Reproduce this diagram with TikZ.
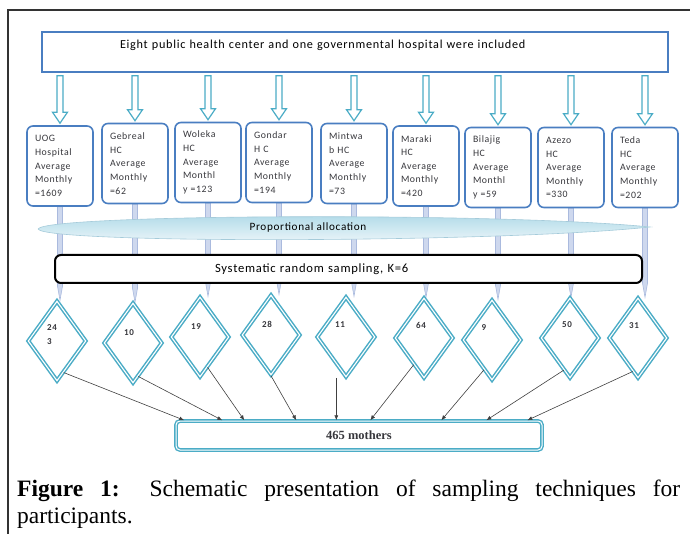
\documentclass[tikz,border=0pt]{standalone}
\usepackage{fontspec}
\setmainfont{Liberation Serif}
\newfontfamily\boxfont[LetterSpace=6]{Carlito}
\usetikzlibrary{shapes.geometric,arrows.meta,calc,backgrounds}

\definecolor{boxblue}{RGB}{74,126,193}
\definecolor{arrteal}{RGB}{75,172,198}
\definecolor{pipelav}{RGB}{206,216,238}
\definecolor{pipeedge}{RGB}{170,186,222}
\definecolor{lensblue}{RGB}{172,216,231}
\definecolor{lensedge}{RGB}{165,203,218}
\definecolor{txtgrey}{RGB}{55,55,60}

\tikzset{
  topbox/.style={draw=boxblue, line width=1.5pt, minimum width=626pt, minimum height=40pt,
    text width=470pt, align=left, inner sep=0pt, text height=8pt, text depth=15pt,
    font=\boxfont\fontsize{12.2}{14}\selectfont},
  centre/.style={draw=boxblue, line width=1.6pt, rounded corners=6pt, fill=white,
    minimum width=66pt, minimum height=80pt, text width=50pt, inner sep=0pt, align=left,
    text=txtgrey, font=\boxfont\fontsize{9.8}{13.6}\selectfont},
  hollowarr/.style={draw=arrteal, line width=1.2pt, fill=white,
    to path={let \p1=(\tikztostart), \p2=(\tikztotarget) in
      (\x1-3pt,\y1-3pt) -- (\x1-3pt,\y2+13pt) -- (\x1-7.5pt,\y2+13pt) -- (\x1,\y2+2pt)
      -- (\x1+7.5pt,\y2+13pt) -- (\x1+3pt,\y2+13pt) -- (\x1+3pt,\y1-3pt) -- cycle}},
  pipe/.style={draw=pipeedge, line width=0.6pt, fill=pipelav,
    to path={let \p1=(\tikztostart), \p2=(\tikztotarget) in
      (\x1-2.5pt,\y1) -- (\x1-2.5pt,\y2+14pt) -- (\x1,\y2) -- (\x1+2.5pt,\y2+14pt)
      -- (\x1+2.5pt,\y1) -- cycle}},
  diam/.style={diamond, draw=arrteal, line width=1.5pt, double=white, double distance=1.1pt,
    minimum width=58pt, minimum height=80pt, inner sep=0pt},
  dlab/.style={font=\boxfont\bfseries\fontsize{9}{14}\selectfont, text=txtgrey,
    inner sep=0pt, xshift=-4pt, yshift=12pt},
  lens/.style={draw=lensedge, line width=0.6pt, top color=lensblue, bottom color=white!80!lensblue},
  sysbox/.style={draw=black, line width=2pt, rounded corners=6pt, fill=white,
    minimum width=587pt, minimum height=28pt, text width=267pt, align=left, inner sep=0pt,
    font=\boxfont\fontsize{12.6}{14}\selectfont},
  mbox/.style={draw=arrteal, line width=1.4pt, double=white, double distance=1pt,
    rounded corners=4pt, fill=white, minimum width=366pt, minimum height=29pt,
    inner sep=0pt, text=txtgrey, font=\bfseries\fontsize{12.5}{14}\selectfont},
  toarr/.style={draw=black!75, line width=0.6pt, -{Latex[length=5pt,width=4pt]}},
  caption/.style={text width=663pt, align=justify, inner sep=0pt,
    font=\fontsize{23.5}{27}\selectfont}
}

\begin{document}
\begin{tikzpicture}[x=1pt,y=-1pt]
\useasboundingbox (0,0) rectangle (690,534);
% frame
\draw[line width=1.4pt, black!80] (8,534) -- (8,10) -- (690,10);

\node[topbox] (top) at (355,52) {Eight public health center and one governmental hospital were included};

% health centres
\node[centre] (b1) at (60,166) {UOG\\Hospital\\Average\\Monthly\\=1609};
\node[centre] (b2) at (135,163.5) {Gebreal\\HC\\Average\\Monthly\\=62};
\node[centre] (b3) at (208,162.5) {Woleka\\HC\\Average\\Monthl\\y =123};
\node[centre] (b4) at (279,162.5) {Gondar\\H C\\Average\\Monthly\\=194};
\node[centre] (b5) at (354,163.5) {Mintwa\\b HC\\Average\\Monthly\\=73};
\node[centre] (b6) at (426,166) {Maraki\\HC\\Average\\Monthly\\=420};
\node[centre] (b7) at (498,167.5) {Bilajig\\HC\\Average\\Monthl\\y =59};
\node[centre] (b8) at (571,167.5) {Azezo\\HC\\Average\\Monthly\\=330};
\node[centre] (b9) at (645,167.5) {Teda\\HC\\Average\\Monthly\\=202};

\foreach \i in {1,...,9}
  \draw[hollowarr] (top.south -| b\i.north) to (b\i.north);

% samples
\node[diam, label={[dlab, align=left, xshift=-1pt, yshift=-6pt]center:{24\\3}}] (d1) at (57,341) {};
\node[diam, label={[dlab, yshift=-2pt]center:10}] (d2) at (133,343) {};
\node[diam, label={[dlab, yshift=-2pt]center:19}] (d3) at (200,337) {};
\node[diam, label={[dlab, yshift=-1pt]center:28}] (d4) at (271,335) {};
\node[diam, label={[dlab, xshift=-2pt]center:11}] (d5) at (346,337) {};
\node[diam, label={[dlab, xshift=1pt, yshift=1pt]center:64}] (d6) at (424,338) {};
\node[diam, label={[dlab, xshift=-4pt]center:9}] (d7) at (492,340) {};
\node[diam, label={[dlab, xshift=1pt, yshift=1pt]center:50}] (d8) at (570,338) {};
\node[diam, label={[dlab]center:31}] (d9) at (638,338) {};

\begin{scope}[on background layer]
\foreach \i in {1,...,9}
  \draw[pipe] (b\i.south) to (b\i.south |- d\i.north);
\end{scope}

\path[lens] (38,229) .. controls (45,214) and (500,212) .. (650,227)
  .. controls (500,243) and (45,244) .. (38,229);
\node[font=\boxfont\fontsize{11.2}{13}\selectfont] (alloc) at (308,228) {Proportional allocation};

\node[sysbox] (sys) at (348.5,269) {Systematic random sampling, K=6};

\node[mbox] (mothers) at (359,435.5) {465 mothers};

\draw[toarr] (d1.-78) -- ([xshift=9pt]mothers.north west);
\draw[toarr] (d2.-81) -- ([xshift=47pt]mothers.north west);
\draw[toarr] (d3.-76) -- ([xshift=69pt]mothers.north west);
\draw[toarr] (d4.south) -- ([xshift=121pt]mothers.north west);
\draw[toarr] ([xshift=161pt]mothers.north west |- d5.south) -- ([xshift=161pt]mothers.north west);
\draw[toarr] (d6.-111) -- ([xshift=195pt]mothers.north west);
\draw[toarr] (d7.-105) -- ([xshift=266pt]mothers.north west);
\draw[toarr] (d8.-101) -- ([xshift=311pt]mothers.north west);
\draw[toarr] (d9.-99) -- ([xshift=352pt]mothers.north west);

\node[caption, anchor=north west] (cap) at (17,480)
  {\textbf{Figure 1:} Schematic presentation of sampling techniques for\linebreak participants.};
\end{tikzpicture}
\end{document}
